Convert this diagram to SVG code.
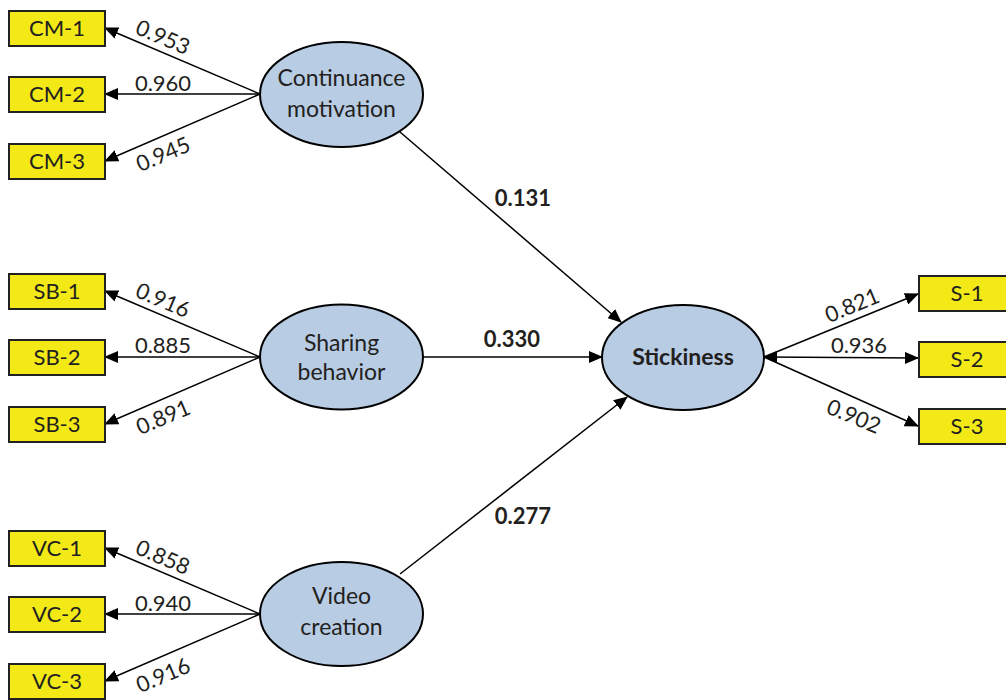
<svg xmlns="http://www.w3.org/2000/svg" width="1006" height="700" viewBox="0 0 1006 700">
<style>
.box{fill:#f2e917;stroke:#222;stroke-width:2}
.ell{fill:#b8cce4;stroke:#000;stroke-width:2}
.t{font-family:Lato,"Open Sans","Liberation Sans",sans-serif;fill:#231f20;text-anchor:middle}
.bl{font-size:22px}
.el{font-size:23px}
.ld{font-size:22px}
.pc{font-size:22px;font-weight:bold}
.ln{stroke:#000;stroke-width:1.5;fill:none;marker-end:url(#ah)}
</style>
<defs>
<marker id="ah" markerUnits="userSpaceOnUse" markerWidth="14" markerHeight="12" refX="13" refY="6" orient="auto-start-reverse" viewBox="0 0 14 12">
<path d="M0,0 L14,6 L0,12 z" fill="#000"/>
</marker>
</defs>
<rect width="1006" height="700" fill="#fff"/>
<g id="connectors">
<line class="ln" x1="260" y1="94" x2="105" y2="28"/>
<line class="ln" x1="260" y1="94" x2="105" y2="94"/>
<line class="ln" x1="260" y1="94" x2="105" y2="161"/>
<line class="ln" x1="260" y1="357" x2="105" y2="291"/>
<line class="ln" x1="260" y1="357" x2="105" y2="357"/>
<line class="ln" x1="260" y1="357" x2="105" y2="424"/>
<line class="ln" x1="260" y1="614" x2="105" y2="548"/>
<line class="ln" x1="260" y1="614" x2="105" y2="614"/>
<line class="ln" x1="260" y1="614" x2="105" y2="681"/>
<line class="ln" x1="400" y1="132" x2="621" y2="322"/>
<line class="ln" x1="423" y1="357" x2="602" y2="357"/>
<line class="ln" x1="400" y1="574" x2="627" y2="397"/>
<line class="ln" x1="764" y1="357" x2="918" y2="294"/>
<line class="ln" x1="764" y1="357" x2="918" y2="358" style="marker-start:url(#ah)"/>
<line class="ln" x1="764" y1="357" x2="918" y2="426"/>
<g class="t ld">
<text transform="rotate(23 163 37)" x="163" y="45">0.953</text>
<text x="163" y="91">0.960</text>
<text transform="rotate(-23 163 154)" x="163" y="162">0.945</text>
<text transform="rotate(23 163 300)" x="163" y="308">0.916</text>
<text x="163" y="353">0.885</text>
<text transform="rotate(-23 163 417)" x="163" y="425">0.891</text>
<text transform="rotate(23 163 557)" x="163" y="565">0.858</text>
<text x="163" y="611">0.940</text>
<text transform="rotate(-23 163 675)" x="163" y="683">0.916</text>
<text transform="rotate(-22.5 852 305)" x="852" y="313">0.821</text>
<text x="859" y="353">0.936</text>
<text transform="rotate(22.5 854 416)" x="854" y="424">0.902</text>
</g>
<g class="t pc">
<text x="523" y="206">0.131</text>
<text x="512" y="347">0.330</text>
<text x="523" y="524">0.277</text>
</g>
</g>
<g id="CM-1"><rect class="box" x="9" y="11" width="96" height="35"/><text class="t bl" x="57" y="36">CM-1</text></g>
<g id="CM-2"><rect class="box" x="9" y="77" width="96" height="35"/><text class="t bl" x="57" y="102">CM-2</text></g>
<g id="CM-3"><rect class="box" x="9" y="144" width="96" height="35"/><text class="t bl" x="57" y="169">CM-3</text></g>
<g id="SB-1"><rect class="box" x="9" y="274" width="96" height="35"/><text class="t bl" x="57" y="299">SB-1</text></g>
<g id="SB-2"><rect class="box" x="9" y="340" width="96" height="35"/><text class="t bl" x="57" y="365">SB-2</text></g>
<g id="SB-3"><rect class="box" x="9" y="407" width="96" height="35"/><text class="t bl" x="57" y="432">SB-3</text></g>
<g id="VC-1"><rect class="box" x="9" y="531" width="96" height="35"/><text class="t bl" x="57" y="556">VC-1</text></g>
<g id="VC-2"><rect class="box" x="9" y="597" width="96" height="35"/><text class="t bl" x="57" y="622">VC-2</text></g>
<g id="VC-3"><rect class="box" x="9" y="664" width="96" height="35"/><text class="t bl" x="57" y="689">VC-3</text></g>
<g id="S-1"><rect class="box" x="919" y="276" width="96" height="35"/><text class="t bl" x="967" y="301">S-1</text></g>
<g id="S-2"><rect class="box" x="919" y="342" width="96" height="35"/><text class="t bl" x="967" y="367">S-2</text></g>
<g id="S-3"><rect class="box" x="919" y="409" width="96" height="35"/><text class="t bl" x="967" y="434">S-3</text></g>
<g id="continuance-motivation"><ellipse class="ell" cx="341.5" cy="94.5" rx="81.5" ry="52.5"/><text class="t el" x="341.5" y="86">Continuance</text><text class="t el" x="341.5" y="117">motivation</text></g>
<g id="sharing-behavior"><ellipse class="ell" cx="341.5" cy="357" rx="81.5" ry="52.5"/><text class="t el" x="341.5" y="351">Sharing</text><text class="t el" x="341.5" y="380">behavior</text></g>
<g id="video-creation"><ellipse class="ell" cx="341.5" cy="614" rx="81.5" ry="52"/><text class="t el" x="341.5" y="604">Video</text><text class="t el" x="341.5" y="635">creation</text></g>
<g id="stickiness"><ellipse class="ell" cx="683" cy="357.5" rx="81" ry="52.5"/><text class="t el" x="683" y="365" font-weight="bold">Stickiness</text></g>
</svg>
